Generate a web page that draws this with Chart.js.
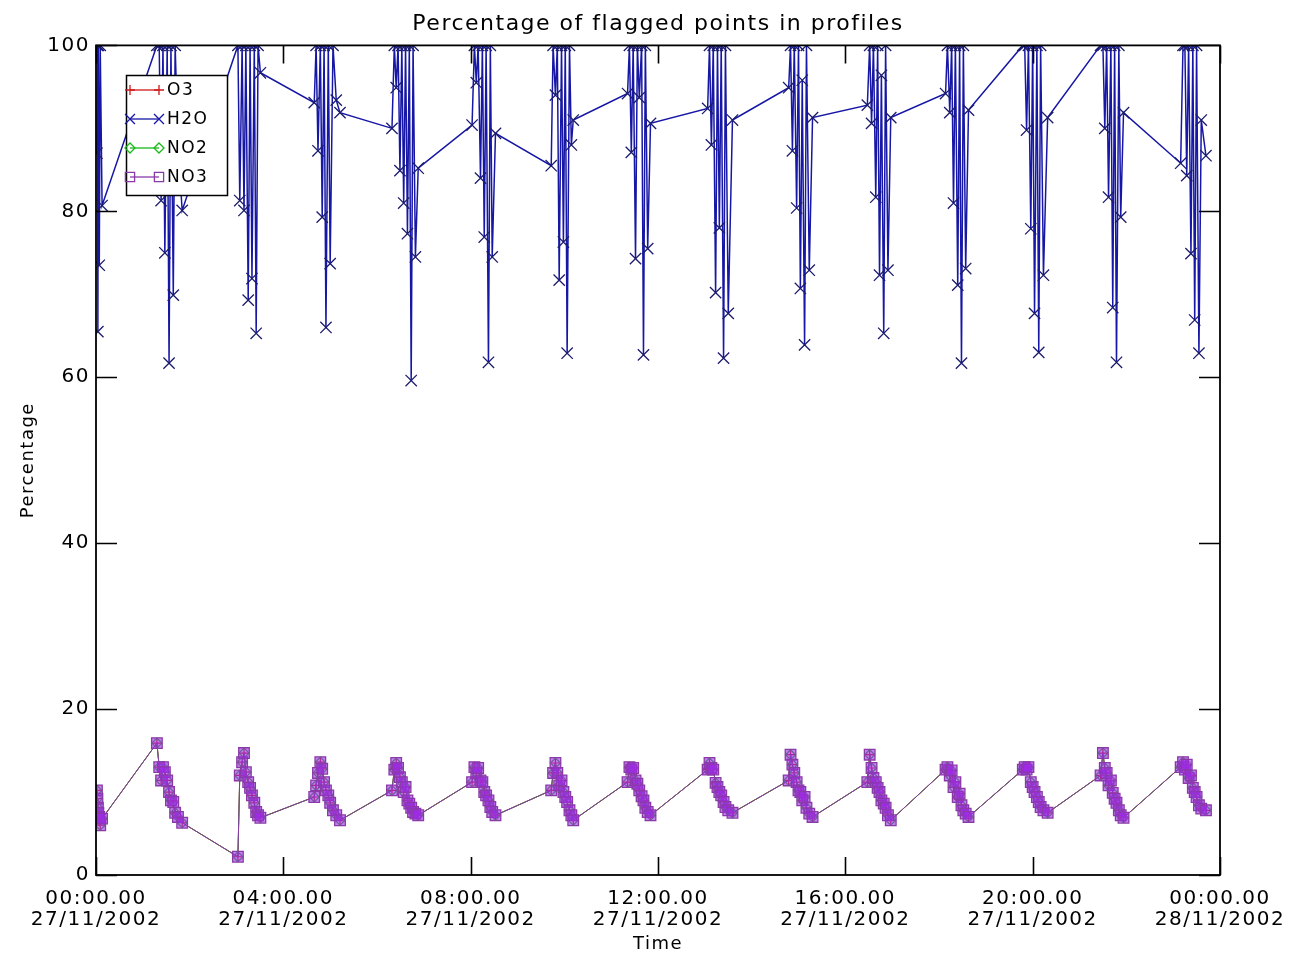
<!DOCTYPE html>
<html>
<head>
<meta charset="utf-8">
<script src="https://cdn.jsdelivr.net/npm/chart.js@4.4.1/dist/chart.umd.min.js"></script>
<style>
html,body{margin:0;padding:0;background:#fff;}
#wrap{width:1296px;height:958px;}
</style>
</head>
<body>
<div id="wrap"><canvas id="c" width="1296" height="958"></canvas></div>
<script>
// ---- data (time in hours since 00:00 27/11/2002) ----
const timeHours = [
  0.02, 0.03, 0.04, 0.05, 0.07, 0.09, 0.13,
  1.30, 1.35, 1.39, 1.43, 1.47, 1.52, 1.56, 1.60, 1.65, 1.69, 1.75, 1.84,
  3.03, 3.07, 3.12, 3.16, 3.20, 3.25, 3.29, 3.33, 3.38, 3.42, 3.46, 3.51,
  4.66, 4.70, 4.74, 4.79, 4.83, 4.87, 4.91, 4.96, 5.00, 5.06, 5.13, 5.21,
  6.32, 6.37, 6.41, 6.45, 6.49, 6.53, 6.57, 6.61, 6.65, 6.69, 6.73, 6.77, 6.82, 6.88,
  8.03, 8.08, 8.12, 8.16, 8.21, 8.25, 8.29, 8.33, 8.38, 8.42, 8.46, 8.53,
  9.72, 9.76, 9.81, 9.85, 9.89, 9.94, 9.98, 10.02, 10.06, 10.11, 10.15, 10.19,
  11.35, 11.39, 11.43, 11.47, 11.52, 11.56, 11.60, 11.65, 11.69, 11.73, 11.78, 11.84,
  13.06, 13.10, 13.14, 13.18, 13.23, 13.27, 13.31, 13.35, 13.40, 13.44, 13.50, 13.59,
  14.79, 14.83, 14.87, 14.91, 14.96, 15.00, 15.04, 15.08, 15.13, 15.17, 15.23, 15.30,
  16.47, 16.52, 16.56, 16.60, 16.65, 16.69, 16.73, 16.77, 16.82, 16.86, 16.91, 16.97,
  18.14, 18.18, 18.23, 18.27, 18.31, 18.35, 18.40, 18.44, 18.48, 18.52, 18.57, 18.63,
  19.79, 19.83, 19.87, 19.91, 19.96, 20.00, 20.04, 20.09, 20.13, 20.17, 20.23, 20.32,
  21.45, 21.50, 21.54, 21.58, 21.62, 21.67, 21.71, 21.75, 21.79, 21.84, 21.88, 21.94,
  23.16, 23.21, 23.25, 23.29, 23.33, 23.38, 23.42, 23.46, 23.50, 23.55, 23.60, 23.70
];

const h2o = [
  87.0, 100, 65.5, 100, 73.5, 100, 80.7,
  100, 100, 81.3, 100, 75.0, 100, 61.7, 100, 69.9, 100, 88.0, 80.1,
  100, 81.3, 100, 80.1, 100, 69.3, 100, 71.9, 100, 65.3, 100, 96.7,
  93.1, 100, 87.3, 100, 79.3, 100, 66.0, 100, 73.7, 100, 93.4, 91.9,
  90.0, 100, 94.9, 100, 84.9, 100, 81.0, 100, 77.3, 100, 59.6, 100, 74.5, 85.2,
  90.4, 100, 95.5, 100, 84.0, 100, 76.9, 100, 61.8, 100, 74.5, 89.4,
  85.5, 100, 94.0, 100, 71.7, 100, 76.3, 100, 62.9, 100, 88.0, 91.0,
  94.2, 100, 87.1, 100, 74.3, 100, 93.7, 100, 62.7, 100, 75.5, 90.6,
  92.4, 100, 88.0, 100, 70.2, 100, 78.0, 100, 62.3, 100, 67.7, 91.0,
  94.9, 100, 87.3, 100, 80.4, 100, 70.7, 95.8, 63.9, 100, 72.9, 91.3,
  92.8, 100, 90.6, 100, 81.7, 100, 72.3, 96.4, 65.3, 100, 72.9, 91.3,
  94.2, 100, 91.9, 100, 81.0, 100, 71.1, 100, 61.7, 100, 73.1, 92.2,
  100, 100, 89.8, 100, 77.9, 100, 67.7, 100, 63.0, 100, 72.3, 91.3,
  100, 100, 90.0, 100, 81.7, 100, 68.4, 100, 61.8, 100, 79.3, 91.9,
  85.8, 100, 100, 84.3, 100, 74.9, 100, 66.9, 100, 62.9, 91.0, 86.7
];

const o3 = [
  10.2, 9.2, 8.1, 7.5, 7.0, 6.0, 6.8,
  15.9, 13.0, 11.4, 13.0, 12.4, 11.4, 10.0, 9.0, 8.8, 7.5, 7.0, 6.3,
  2.2, 12.0, 13.6, 14.7, 12.4, 11.2, 10.5, 9.6, 8.7, 7.6, 7.2, 6.9,
  9.4, 10.8, 12.3, 13.6, 12.8, 11.2, 10.2, 9.6, 8.7, 7.8, 7.2, 6.6,
  10.2, 12.7, 13.5, 12.9, 11.8, 11.2, 10.0, 10.6, 9.0, 8.6, 8.1, 7.6, 7.4, 7.2,
  11.2, 13.0, 12.3, 12.9, 11.4, 11.2, 10.0, 9.6, 9.0, 8.2, 7.6, 7.2,
  10.2, 12.3, 13.5, 12.3, 10.8, 11.4, 10.0, 9.4, 8.8, 7.8, 7.2, 6.6,
  11.2, 13.0, 12.7, 12.9, 11.4, 11.0, 10.2, 9.5, 9.0, 8.1, 7.6, 7.2,
  12.7, 13.5, 12.9, 12.7, 11.1, 10.6, 10.0, 9.6, 8.8, 8.2, 7.8, 7.5,
  11.4, 14.5, 13.3, 12.3, 11.2, 10.2, 10.0, 9.0, 9.4, 8.1, 7.4, 7.0,
  11.2, 14.5, 12.9, 11.7, 11.2, 10.5, 10.0, 9.0, 8.6, 8.1, 7.2, 6.6,
  12.7, 13.0, 12.0, 12.6, 10.6, 11.2, 9.4, 9.8, 8.4, 7.8, 7.4, 7.0,
  12.7, 13.0, 12.7, 13.0, 11.2, 10.6, 10.0, 9.4, 8.8, 8.2, 7.8, 7.5,
  12.0, 14.7, 12.9, 12.3, 10.8, 11.4, 9.9, 9.2, 8.7, 7.8, 7.2, 6.9,
  13.0, 13.6, 12.7, 13.3, 11.7, 12.0, 10.5, 10.0, 9.4, 8.4, 8.0, 7.8
];

const no2 = [
  10.2, 9.2, 8.1, 7.5, 7.0, 6.0, 6.8,
  15.9, 13.0, 11.4, 13.0, 12.4, 11.4, 10.0, 9.0, 8.8, 7.5, 7.0, 6.3,
  2.2, 12.0, 13.6, 14.7, 12.4, 11.2, 10.5, 9.6, 8.7, 7.6, 7.2, 6.9,
  9.4, 10.8, 12.3, 13.6, 12.8, 11.2, 10.2, 9.6, 8.7, 7.8, 7.2, 6.6,
  10.2, 12.7, 13.5, 12.9, 11.8, 11.2, 10.0, 10.6, 9.0, 8.4, 8.1, 7.6, 7.4, 7.2,
  11.2, 13.0, 12.3, 12.9, 11.4, 11.2, 10.0, 9.6, 9.0, 8.2, 7.6, 7.2,
  10.2, 12.3, 13.5, 12.3, 10.8, 11.4, 10.0, 9.4, 8.8, 7.8, 7.2, 6.6,
  11.2, 13.0, 12.7, 12.9, 11.4, 11.0, 10.2, 9.5, 9.0, 8.1, 7.6, 7.2,
  12.7, 13.5, 12.9, 12.7, 11.1, 10.6, 10.0, 9.6, 8.8, 8.2, 7.8, 7.5,
  11.4, 14.5, 13.3, 12.3, 11.2, 10.2, 10.0, 9.0, 9.4, 8.1, 7.4, 7.0,
  11.2, 14.5, 12.9, 11.7, 11.2, 10.5, 10.0, 9.0, 8.6, 8.1, 7.2, 6.6,
  12.7, 13.0, 12.0, 12.6, 10.6, 11.2, 9.4, 9.8, 8.4, 7.8, 7.4, 7.0,
  12.7, 13.0, 12.7, 13.0, 11.2, 10.6, 10.0, 9.4, 8.8, 8.2, 7.8, 7.5,
  12.0, 14.7, 12.9, 12.3, 10.8, 11.4, 9.9, 9.2, 8.7, 7.8, 7.2, 6.9,
  13.0, 13.6, 12.7, 13.3, 11.7, 12.0, 10.5, 10.0, 9.4, 8.4, 8.0, 7.8
];

const no3 = [
  10.2, 9.2, 8.1, 7.5, 7.0, 6.0, 6.8,
  15.9, 13.0, 11.4, 13.0, 12.4, 11.4, 10.0, 9.0, 8.8, 7.5, 7.0, 6.3,
  2.2, 12.0, 13.6, 14.7, 12.4, 11.2, 10.5, 9.6, 8.7, 7.6, 7.2, 6.9,
  9.4, 10.8, 12.3, 13.6, 12.8, 11.2, 10.2, 9.6, 8.7, 7.8, 7.2, 6.6,
  10.2, 12.7, 13.5, 12.9, 11.8, 11.2, 10.0, 10.6, 9.0, 8.6, 8.1, 7.6, 7.4, 7.2,
  11.2, 13.0, 12.3, 12.9, 11.4, 11.2, 10.0, 9.6, 9.0, 8.2, 7.6, 7.2,
  10.2, 12.3, 13.5, 12.3, 10.8, 11.4, 10.0, 9.4, 8.8, 7.8, 7.2, 6.6,
  11.2, 13.0, 12.7, 12.9, 11.4, 11.0, 10.2, 9.5, 9.0, 8.1, 7.6, 7.2,
  12.7, 13.5, 12.9, 12.7, 11.1, 10.6, 10.0, 9.6, 8.8, 8.2, 7.8, 7.5,
  11.4, 14.5, 13.3, 12.3, 11.2, 10.2, 10.0, 9.0, 9.4, 8.1, 7.4, 7.0,
  11.2, 14.5, 12.9, 11.7, 11.2, 10.5, 10.0, 9.0, 8.6, 8.1, 7.2, 6.6,
  12.7, 13.0, 12.0, 12.6, 10.6, 11.2, 9.4, 9.8, 8.4, 7.8, 7.4, 7.0,
  12.7, 13.0, 12.7, 13.0, 11.2, 10.6, 10.0, 9.4, 8.8, 8.2, 7.8, 7.5,
  12.0, 14.7, 12.9, 12.3, 10.8, 11.4, 9.9, 9.2, 8.7, 7.8, 7.2, 6.9,
  13.0, 13.6, 12.7, 13.3, 11.7, 12.0, 10.5, 10.0, 9.4, 8.4, 8.0, 7.8
];

const seriesNames = ['O3', 'H2O', 'NO2', 'NO3'];
const yTickValues = [0, 20, 40, 60, 80, 100];
const xTickHours = [0, 4, 8, 12, 16, 20, 24];
const xTickTimes = ['00:00.00', '04:00.00', '08:00.00', '12:00.00', '16:00.00', '20:00.00', '00:00.00'];
const xTickDates = ['27/11/2002', '27/11/2002', '27/11/2002', '27/11/2002', '27/11/2002', '27/11/2002', '28/11/2002'];

// ---- styles ----
const FONT = "'DejaVu Sans', 'Liberation Sans', sans-serif";
const styles = {
  O3:  { color: '#d01818', fill: 'rgba(0,0,0,0)', pointStyle: 'cross',    radius: 5,   lw: 1.2 },
  H2O: { color: '#1717a6', fill: 'rgba(0,0,0,0)', pointStyle: 'crossRot', radius: 8,   lw: 1.3 },
  NO2: { color: '#18b818', fill: 'rgba(0,0,0,0)', pointStyle: 'rectRot',  radius: 5,   lw: 1.2 },
  NO3: { color: '#8a3aa8', fill: 'rgba(160,40,235,0.6)', pointStyle: 'rect', radius: 7.5, lw: 1.3 }
};

function toPoints(vals) { return timeHours.map((t, i) => ({ x: t, y: vals[i] })); }
const seriesValues = { O3: o3, H2O: h2o, NO2: no2, NO3: no3 };
const drawOrder = { NO3: 0, NO2: 1, O3: 2, H2O: 3 };

const datasets = seriesNames.map(name => {
  const s = styles[name];
  return {
    label: name,
    data: toPoints(seriesValues[name]),
    borderColor: s.color,
    backgroundColor: s.fill,
    borderWidth: name === 'H2O' ? 1.5 : 1,
    pointStyle: s.pointStyle,
    pointRadius: s.radius,
    pointBorderColor: name === 'H2O' ? '#1c1c6e' : s.color,
    pointBackgroundColor: s.fill,
    pointBorderWidth: s.lw,
    tension: 0,
    order: drawOrder[name]
  };
});

const spacingPlugin = {
  id: 'idlSpacing',
  beforeDraw(chart) { chart.ctx.letterSpacing = '1.5px'; }
};

const framePlugin = {
  id: 'idlFrame',
  afterDatasetsDraw(chart) {
    const { ctx, chartArea: a, scales: { x, y } } = chart;
    ctx.save();
    ctx.strokeStyle = '#000';
    ctx.lineWidth = 1.6;
    ctx.beginPath();
    x.ticks.forEach(t => {
      const px = Math.round(x.getPixelForValue(t.value)) + 0.5;
      ctx.moveTo(px, a.bottom); ctx.lineTo(px, a.bottom - 18);
      ctx.moveTo(px, a.top); ctx.lineTo(px, a.top + 18);
    });
    y.ticks.forEach(t => {
      const py = Math.round(y.getPixelForValue(t.value)) + 0.5;
      ctx.moveTo(a.left, py); ctx.lineTo(a.left + 21, py);
      ctx.moveTo(a.right, py); ctx.lineTo(a.right - 21, py);
    });
    ctx.stroke();
    ctx.lineWidth = 1.8;
    ctx.strokeRect(a.left, a.top, a.right - a.left, a.bottom - a.top);

    // legend box (IDL style, inside plot)
    const bx = 126, by = 75, bw = 101, bh = 120;
    ctx.fillStyle = '#fff';
    ctx.fillRect(bx, by, bw, bh);
    ctx.lineWidth = 1.5;
    ctx.strokeStyle = '#000';
    ctx.strokeRect(bx + 0.5, by + 0.5, bw, bh);
    const rowY = [90, 119, 148, 177];
    seriesNames.forEach((name, i) => {
      const s = styles[name];
      const yy = rowY[i];
      ctx.strokeStyle = s.color;
      ctx.lineWidth = 1.3;
      ctx.beginPath();
      ctx.moveTo(130, yy); ctx.lineTo(159, yy);
      ctx.stroke();
      [130, 159].forEach(px => {
        ctx.strokeStyle = s.color;
        ctx.fillStyle = 'rgba(0,0,0,0)';
        Chart.helpers.drawPoint(ctx, { pointStyle: s.pointStyle, radius: name === 'NO3' ? 6.5 : (name === 'H2O' ? 7 : 5), rotation: 0, borderWidth: 1.3 }, px, yy);
      });
      ctx.fillStyle = '#000';
      ctx.font = "17px " + FONT;
      ctx.textBaseline = 'middle';
      ctx.textAlign = 'left';
      ctx.fillText(name, 167, yy + 1);
    });
    ctx.restore();
  }
};

new Chart(document.getElementById('c'), {
  type: 'line',
  data: { datasets },
  plugins: [spacingPlugin, framePlugin],
  options: {
    responsive: false,
    animation: false,
    events: [],
    layout: { padding: { left: 0, right: 76, top: 0, bottom: 0 } },
    plugins: {
      legend: { display: false },
      tooltip: { enabled: false },
      title: {
        display: true,
        fullSize: false,
        text: 'Percentage of flagged points in profiles',
        color: '#000',
        font: { family: FONT, size: 22, weight: 'normal' },
        padding: { top: 11, bottom: 8 }
      }
    },
    scales: {
      x: {
        type: 'linear',
        min: 0, max: 24,
        afterBuildTicks: s => { s.ticks = xTickHours.map(v => ({ value: v })); },
        afterFit: s => { s.height = 83; },
        grid: { display: false, drawTicks: false },
        border: { display: false },
        ticks: {
          autoSkip: false, maxRotation: 0, minRotation: 0,
          padding: 13,
          color: '#000',
          font: { family: FONT, size: 20, lineHeight: 1.05 },
          callback: (v, i) => [xTickTimes[i], xTickDates[i]]
        },
        title: {
          display: true, text: 'Time', color: '#000',
          font: { family: FONT, size: 18 },
          padding: { top: 0, bottom: 3 }
        }
      },
      y: {
        type: 'linear',
        min: 0, max: 100,
        afterBuildTicks: s => { s.ticks = yTickValues.map(v => ({ value: v })); },
        afterFit: s => { s.width = 96; },
        grid: { display: false, drawTicks: false },
        border: { display: false },
        ticks: {
          padding: 6,
          color: '#000',
          font: { family: FONT, size: 20 },
          callback: v => String(v)
        },
        title: {
          display: true, text: 'Percentage', color: '#000',
          font: { family: FONT, size: 18 },
          padding: { top: 18, bottom: 0 }
        }
      }
    }
  }
});
</script>
</body>
</html>
